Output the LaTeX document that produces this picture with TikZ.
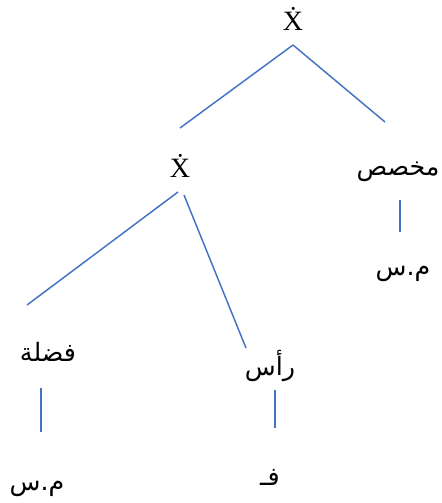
\documentclass[tikz,border=0pt]{standalone}
\usepackage{fontspec}
\setmainfont{Liberation Serif}
\newfontfamily\arabicfont[Script=Arabic]{DejaVu Sans}
\TeXXeTstate=1
\usepackage{xcolor}
\usetikzlibrary{calc}
\definecolor{edgeblue}{HTML}{4472C4}
\tikzset{
  edge/.style={draw=edgeblue, line width=1.1pt},
  lbl/.style={inner sep=0pt, font=\fontsize{21pt}{24pt}\selectfont},
  arlbl/.style={inner sep=0pt, font=\fontsize{19pt}{22pt}\selectfont\arabicfont}
}
\newcommand{\ar}[1]{\beginR #1\endR}

\begin{document}
\begin{tikzpicture}[x=0.75pt, y=-0.75pt]
    \useasboundingbox (0,0) rectangle (442,503);
    % labels
    \node[lbl] (top) at (293,19) {\.{X}};
    \node[lbl] (mid) at (180,166) {\.{X}};
    \node[arlbl] (spec) at (398,172) {\ar{مخصص}};
    \node[arlbl] (specnp) at (403,274) {\ar{م.س}};
    \node[arlbl] (comp) at (48,352) {\ar{فضلة}};
    \node[arlbl] (head) at (270,366) {\ar{رأس}};
    \node[arlbl] (compnp) at (37,489) {\ar{م.س}};
    \node[arlbl] (headv) at (270,477) {\ar{فـ}};
    % branches
    \draw[edge] ($(top)+(0,26)$) -- ($(mid)+(0,-38)$);
    \draw[edge] ($(top)+(0,26)$) -- ($(spec)+(-13,-50)$);
    \draw[edge] ($(mid)+(-2,26)$) -- ($(comp)+(-21,-47)$);
    \draw[edge] ($(mid)+(4,29)$) -- ($(head)+(-24,-18)$);
    \draw[edge] ($(spec)+(2,28)$) -- ($(spec)+(2,60)$);
    \draw[edge] ($(comp)+(-7,36)$) -- ($(comp)+(-7,80)$);
    \draw[edge] ($(head)+(5,24)$) -- ($(head)+(5,62)$);
\end{tikzpicture}
\end{document}
